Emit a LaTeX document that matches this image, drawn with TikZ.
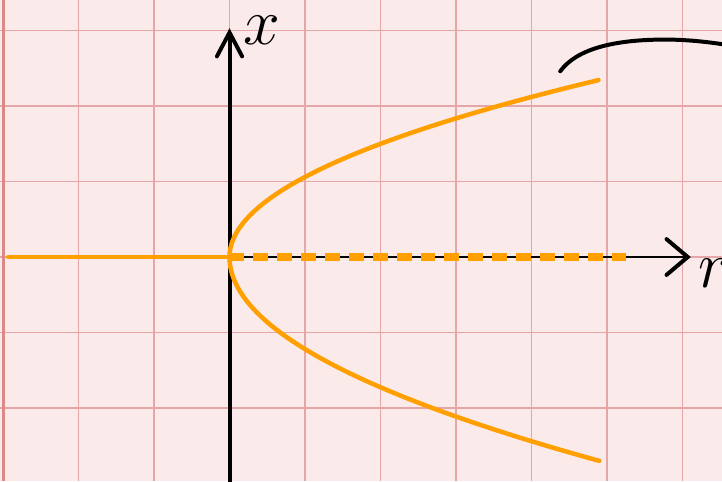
\documentclass[tikz,border=0pt]{standalone}
\usepackage{amsmath}
\usepackage{xcolor}
\usetikzlibrary{arrows.meta}
\definecolor{paper}{RGB}{251,234,234}
\definecolor{gridred}{RGB}{228,166,166}
\definecolor{marginred}{RGB}{218,136,136}
\definecolor{pencil}{RGB}{255,160,0}
\tikzset{
	gridline/.style={gridred,line width=0.6pt},
	axisline/.style={black,line width=1.5pt},
	curve/.style={pencil,line width=1.7pt,line cap=round},
	hand/.style={font=\fontsize{26}{30}\selectfont,inner sep=0pt,anchor=base west},
}
\begin{document}
\begin{tikzpicture}
	\fill[paper] (-3.040,-2.967) rectangle (6.523,3.404);
	\useasboundingbox (-3.040,-2.967) rectangle (6.523,3.404);
	
	\draw[gridline] (-2,-2.967) -- (-2,3.404);
	\draw[gridline] (-1,-2.967) -- (-1,3.404);
	\draw[gridline] (0,-2.967) -- (0,3.404);
	\draw[gridline] (1,-2.967) -- (1,3.404);
	\draw[gridline] (2,-2.967) -- (2,3.404);
	\draw[gridline] (3,-2.967) -- (3,3.404);
	\draw[gridline] (4,-2.967) -- (4,3.404);
	\draw[gridline] (5,-2.967) -- (5,3.404);
	\draw[gridline] (6,-2.967) -- (6,3.404);
	\draw[gridline] (-3.040,3) -- (6.523,3);
	\draw[gridline] (-3.040,2) -- (6.523,2);
	\draw[gridline] (-3.040,1) -- (6.523,1);
	\draw[gridline] (-3.040,0) -- (6.523,0);
	\draw[gridline] (-3.040,-1) -- (6.523,-1);
	\draw[gridline] (-3.040,-2) -- (6.523,-2);
	\draw[marginred,line width=1.1pt] (-2.995,-2.967) -- (-2.995,3.404);
	
	\coordinate (O) at (0,0);
	\coordinate (bottom) at (0,-3.0);
	\coordinate (xtip) at (0,3.03);
	\coordinate (rtip) at (6.11,0);
	\coordinate (left) at (-2.93,0);
	\coordinate (dashend) at (5.29,0);
	
	\draw[black,line width=0.8pt,-{Straight Barb[length=8pt,width=13.5pt,line width=1.5pt,line cap=round]}] (O) -- (rtip);
	\draw[axisline,-{Straight Barb[length=9pt,width=9.5pt,line width=1.5pt,line cap=round]}] (bottom) -- (xtip);
	
	\node[hand] (xlabel) at (0.18,2.81) {$x$};
	\node[hand] (rlabel) at (6.20,-0.41) {$r$};
	
	\draw[curve] (left) -- (O);
	\draw[pencil,line width=3pt,dash pattern=on 5.6pt off 3.4pt] (O) -- (dashend);
	\draw[curve] plot[domain=0:2.344,samples=60] ({(\x/1.06)^2},{\x});
	\draw[curve] plot[domain=0:-2.70,samples=60] ({(\x/1.22)^2},{\x});
	
	\draw[black,line width=1.5pt,line cap=round] (4.38,2.46) .. controls (4.6,2.76) and (5.1,2.88) .. (5.77,2.88) .. controls (6.1,2.88) and (6.4,2.84) .. (6.65,2.80);
\end{tikzpicture}
\end{document}
